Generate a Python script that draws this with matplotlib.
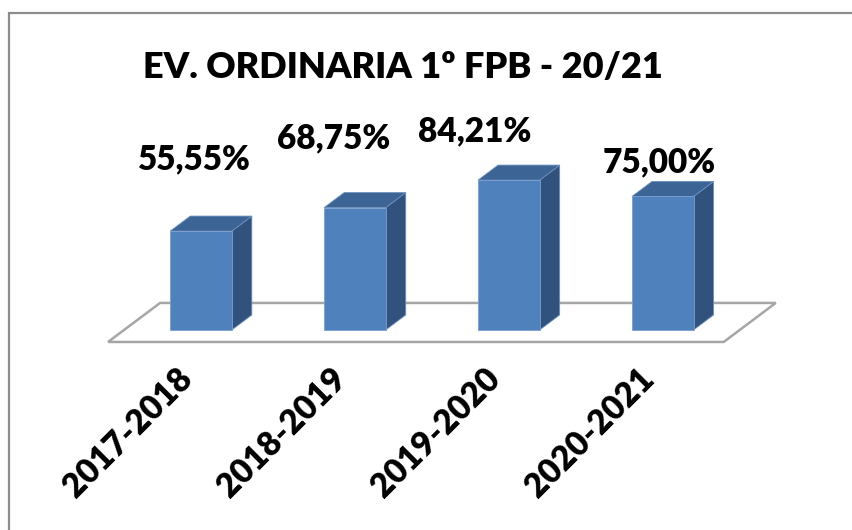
import matplotlib
matplotlib.use("Agg")
import matplotlib.pyplot as plt
from matplotlib.patches import Polygon, Rectangle

# data
seasons = ["2017-2018", "2018-2019", "2019-2020", "2020-2021"]
pass_rate = [55.55, 68.75, 84.21, 75.00]
value_labels = ["55,55%", "68,75%", "84,21%", "75,00%"]
title = "EV. ORDINARIA 1º FPB - 20/21"

# excel style 3d label placement (offset from bar centre, height in %)
label_dx = [-0.04, -0.14, -0.22, -0.02]
label_y = [96.0, 107.6, 111.5, 94.0]

plt.rcParams['font.family'] = ['Lato', 'DejaVu Sans']

W, H = 853, 530
fig = plt.figure(figsize=(W / 100, H / 100), dpi=100)
ax = fig.add_axes([0, 0, 1, 1])
ax.set_xlim(-1.306, 4.236)
ax.set_ylim(-112.4, 185.4)
ax.axis('off')

# oblique depth direction (one bar depth)
DX = 0.13
DY = 8.43
barw = 0.4

front_col = '#4f81bd'
top_col = '#3c6494'
side_col = '#31527c'

# floor (depth goes from -0.8 to 1.8 bar depths)
d0, d1 = -0.8, 1.8
floor = [(-0.5 + d0 * DX, d0 * DY), (3.5 + d0 * DX, d0 * DY),
         (3.5 + d1 * DX, d1 * DY), (-0.5 + d1 * DX, d1 * DY)]
ax.add_patch(Polygon(floor, closed=True, facecolor='white',
                     edgecolor='#a6a6a6', linewidth=1.8, zorder=1))

for i, v in enumerate(pass_rate):
    x0 = i - barw / 2
    x1 = i + barw / 2
    front = [(x0, 0), (x1, 0), (x1, v), (x0, v)]
    top = [(x0, v), (x1, v), (x1 + DX, v + DY), (x0 + DX, v + DY)]
    side = [(x1, 0), (x1 + DX, DY), (x1 + DX, v + DY), (x1, v)]
    ax.add_patch(Polygon(side, closed=True, facecolor=side_col,
                         edgecolor='#6b8fbf', linewidth=0.6, zorder=2))
    ax.add_patch(Polygon(top, closed=True, facecolor=top_col,
                         edgecolor='#6b8fbf', linewidth=0.6, zorder=2))
    ax.add_patch(Polygon(front, closed=True, facecolor=front_col,
                         edgecolor='#7a9fd0', linewidth=0.6, zorder=3))

    ax.text(i + label_dx[i], label_y[i], value_labels[i], ha='center', va='center',
            fontsize=24, fontweight='heavy', color='black', zorder=4)

    ax.text(i - 0.09, -24.5, seasons[i], rotation=45, rotation_mode='anchor',
            ha='right', va='center', fontsize=24, fontweight='heavy',
            color='black', zorder=4)

fig.text(403 / W, 1 - 67.5 / H, title, ha='center', va='center',
         fontsize=26, fontweight='heavy', color='black')

# chart area border (runs off the right and bottom edge)
fig.patches.append(Rectangle((8.5 / W, -0.1), 1.2, 1.1 - 13 / H,
                             transform=fig.transFigure, fill=False,
                             edgecolor='#8c8c8c', linewidth=1.6))

fig.savefig('out.png', dpi=100, facecolor='white')
